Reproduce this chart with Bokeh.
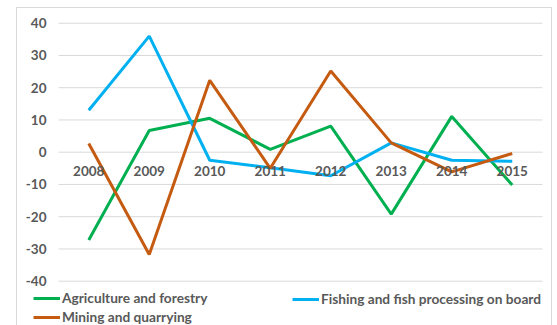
from bokeh.plotting import figure
from bokeh.models import ColumnDataSource, Legend, LegendItem, Range1d
from bokeh.core.properties import value
from bokeh.embed import file_html
from bokeh.resources import INLINE

years = ["2008", "2009", "2010", "2011", "2012", "2013", "2014", "2015"]
agriculture = [-27.2, 6.7, 10.5, 0.9, 8.1, -19.2, 11.1, -10.2]
fishing = [13.0, 36.0, -2.5, -4.8, -7.3, 2.9, -2.5, -2.8]
mining = [2.7, -31.7, 22.3, -5.0, 25.2, 2.9, -6.1, -0.4]
y_ticks = [-40, -30, -20, -10, 0, 10, 20, 30, 40]
y_tick_labels = [str(t) for t in y_ticks]

FONT = "Lato"
GRAY = "#595959"

n = len(years)
idx = list(range(n))
src = ColumnDataSource(dict(x=idx, year=years, zero=[0] * n,
                            agri=agriculture, fish=fishing, mine=mining))
tick_src = ColumnDataSource(dict(y=y_ticks, label=y_tick_labels,
                                 x0=[-0.5] * len(y_ticks), x1=[n - 0.5] * len(y_ticks)))

p = figure(width=534, height=317, output_backend="svg", toolbar_location=None,
           x_range=Range1d(-1.1777, n - 0.5 + 0.1488), y_range=Range1d(-53.74, 44.56),
           x_axis_location=None, y_axis_location=None,
           min_border_left=0, min_border_right=0, min_border_top=0, min_border_bottom=0)
p.margin = (8, 0, 0, 17)
p.styles = {"outline": "1px solid #D9D9D9"}
p.outline_line_color = None
p.grid.visible = False

# horizontal gridlines and y tick labels
p.segment(x0="x0", x1="x1", y0="y", y1="y", source=tick_src,
          line_color="#D9D9D9", line_width=1)
p.text(x="x0", y="y", text="label", source=tick_src, text_font=value(FONT),
       text_font_style="bold", text_font_size="13.5px", text_color=GRAY,
       text_align="right", text_baseline="middle", x_offset=-12)

r_agri = p.line("x", "agri", source=src, line_color="#00B050", line_width=3)
r_fish = p.line("x", "fish", source=src, line_color="#00B0F0", line_width=3)
r_mine = p.line("x", "mine", source=src, line_color="#C55A11", line_width=3)

p.text("x", "zero", text="year", source=src, text_font=value(FONT),
       text_font_style="bold", text_font_size="13.5px", text_color=GRAY,
       text_align="center", text_baseline="middle", y_offset=19)

common = dict(glyph_width=27, glyph_height=16, label_height=16, label_standoff=2,
              padding=0, margin=0, spacing=2, border_line_color=None,
              background_fill_alpha=0, label_text_font=FONT,
              label_text_font_style="bold", label_text_font_size="13.7px",
              label_text_color=GRAY)
legA = Legend(items=[LegendItem(label="Agriculture and forestry", renderers=[r_agri]),
                     LegendItem(label="Mining and quarrying", renderers=[r_mine])],
              location=(16, 0), **common)
legB = Legend(items=[LegendItem(label="Fishing and fish processing on board", renderers=[r_fish])],
              location=(275, 18), **common)
p.add_layout(legA, "center")
p.add_layout(legB, "center")

open("out.html", "w").write(file_html(p, INLINE))
